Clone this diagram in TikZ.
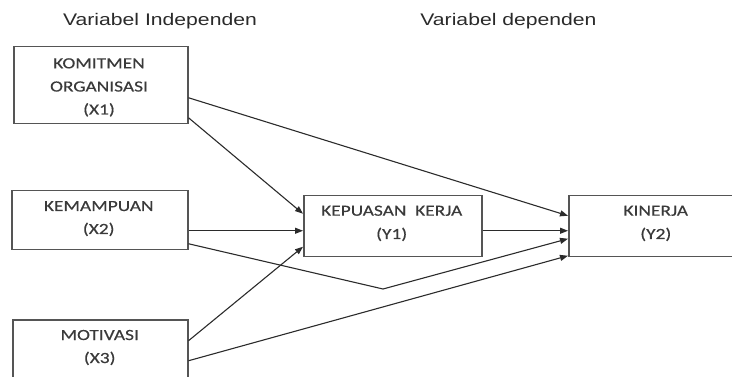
\documentclass[tikz,border=0pt]{standalone}
\usepackage{fontspec}
\usetikzlibrary{arrows.meta}
\newfontfamily\titlefont[FakeStretch=1.26]{Liberation Sans}
\newfontfamily\boxfont[FakeStretch=1.25,FakeBold=0.4]{Carlito}
\definecolor{txt}{HTML}{3A3A3A}
\definecolor{ttl}{HTML}{2A2A2A}
\definecolor{bord}{HTML}{555555}
\definecolor{lin}{HTML}{2B2B2B}
\tikzset{
  varbox/.style={draw=bord, line width=1.5pt, rectangle, anchor=north west, inner sep=0pt},
  ttext/.style={anchor=base, inner sep=0pt, text=ttl, font=\titlefont\fontsize{16.8}{20}\selectfont},
  btext/.style={anchor=base, inner sep=0pt, text=txt, font=\boxfont\fontsize{15.5}{18}\selectfont},
  conn/.style={draw=lin, line width=1.1pt, -{Triangle[length=8pt,width=6pt]}}
}
\begin{document}
\begin{tikzpicture}[x=1pt, y=-1pt]
\useasboundingbox (0,0) rectangle (732,377);
\clip (0,0) rectangle (732,377);
\node[ttext] (t1) at (160,26) {Variabel Independen};
\node[ttext] (t2) at (508.5,26) {Variabel dependen};

\node[varbox, minimum width=174pt, minimum height=77pt] (x1) at (13,46) {};
\node[varbox, minimum width=176pt, minimum height=59pt] (x2) at (11,190) {};
\node[varbox, minimum width=175pt, minimum height=80pt] (x3) at (12,319) {};
\node[varbox, minimum width=178pt, minimum height=61pt] (y1) at (303,195) {};
\node[varbox, minimum width=180pt, minimum height=61pt] (y2) at (568,195) {};

\node[btext] (x1a) at (99,68.3) {KOMITMEN};
\node[btext] (x1b) at (99,91.5) {ORGANISASI};
\node[btext] (x1c) at (99,114.5) {(X1)};
\node[btext] (x2a) at (98.7,211) {KEMAMPUAN};
\node[btext] (x2b) at (98.7,234) {(X2)};
\node[btext] (x3a) at (99.7,340) {MOTIVASI};
\node[btext] (x3b) at (99.7,363) {(X3)};
\node[btext] (y1a) at (391.7,215.7) {KEPUASAN\ \ KERJA};
\node[btext] (y1b) at (391.7,239) {(Y1)};
\node[btext] (y2a) at (655.8,215.7) {KINERJA};
\node[btext] (y2b) at (655.8,239) {(Y2)};

\coordinate (bend) at (383,289);

\draw[conn] ([yshift=-12.5pt]x1.east) -- ([yshift=10.5pt]y2.west);
\draw[conn] ([yshift=-32.5pt]x1.east) -- ([yshift=12.5pt]y1.west);
\draw[conn] ([yshift=-10.5pt]x2.east) -- ([yshift=-4.5pt]y1.west);
\draw[conn] ([yshift=19pt]x3.east) -- ([yshift=-20.5pt]y1.west);
\draw[conn] ([yshift=-23.5pt]x2.east) -- (bend) -- ([yshift=-12.5pt]y2.west);
\draw[conn] ([yshift=-1pt]x3.east) -- ([yshift=-29.5pt]y2.west);
\draw[conn] ([yshift=-4.5pt]y1.east) -- ([yshift=-4.5pt]y2.west);
\end{tikzpicture}
\end{document}
